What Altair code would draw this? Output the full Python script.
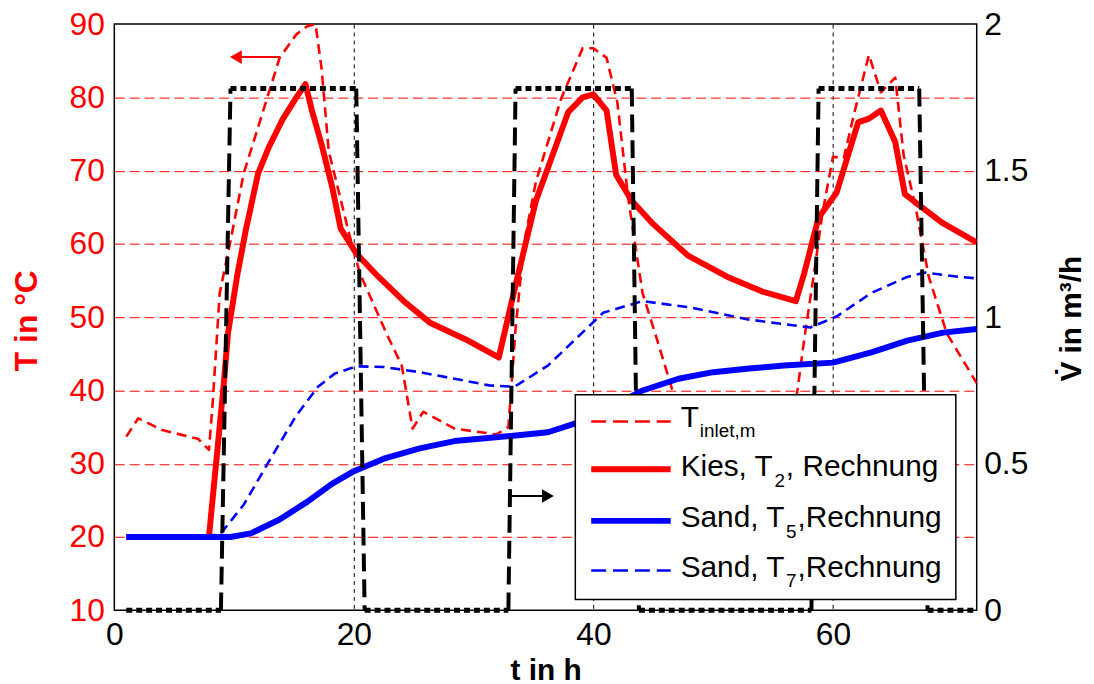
import altair as alt
import pandas as pd

RED = "#ff0000"
BLUE = "#0000ff"
FONT = "Liberation Sans"

# ---------------- data ----------------
inlet_t = [1.0, 2.0, 4.0, 7.0, 7.9, 8.2, 8.8, 9.66, 10.8, 12.0, 13.8, 15.2, 16.1, 16.8, 17.3, 17.9,
           19.6, 20.5, 22.8, 24.0, 24.9, 25.8, 28.4, 31.9, 32.9, 33.5, 34.2, 35.2, 37.3, 39.1, 40.0,
           41.1, 42.0, 42.9, 44.1, 45.3, 46.6, 47.8, 50.0, 54.0, 56.5, 57.05, 57.6, 58.5, 59.1,
           60.0, 60.9, 61.8, 63.0, 64.0, 65.2, 65.9, 66.9, 68.0, 69.5, 72.0]
inlet_T = [33.7, 36.2, 34.6, 33.4, 31.9, 38.0, 53.3, 60.1, 69.6, 75.9, 85.4, 88.6, 89.7, 90.0, 84.0, 72.7,
           61.4, 56.0, 47.5, 43.4, 34.8, 37.1, 34.8, 34.0, 35.0, 48.4, 60.0, 68.5, 79.8, 86.7, 86.7,
           85.4, 79.3, 66.3, 53.3, 47.0, 40.0, 35.5, 34.0, 33.5, 34.0, 40.2, 47.0, 56.9, 64.0,
           71.9, 71.7, 78.0, 85.8, 80.7, 82.7, 72.1, 65.0, 55.5, 47.8, 41.0]

t2_t = [1.0, 7.9, 9.1, 9.5, 10.25, 10.98, 12.0, 12.9, 14.05, 15.2, 15.96, 16.5, 17.3, 18.2, 18.9,
        20.2, 22.0, 24.3, 26.4, 29.3, 31.9, 32.1, 33.3, 35.2, 37.9, 39.1, 40.0, 41.1, 41.9, 43.2,
        45.0, 47.9, 51.2, 54.1, 56.9, 57.6, 58.8, 60.3, 62.1, 63.0, 64.0, 65.2, 66.0, 67.1, 69.1, 72.0]
t2_T = [20.0, 20.0, 40.2, 47.9, 55.6, 61.9, 69.6, 73.2, 77.0, 80.0, 81.8, 78.2, 73.6, 67.7, 62.1,
        58.7, 55.6, 52.0, 49.2, 47.0, 44.7, 44.5, 53.0, 65.9, 78.0, 80.0, 80.4, 78.2, 69.4, 65.9,
        62.7, 58.4, 55.5, 53.5, 52.2, 56.0, 63.6, 67.0, 76.6, 77.1, 78.2, 73.9, 66.8, 65.4, 62.9, 60.2]

t5_t = [1.0, 9.7, 11.4, 13.8, 16.1, 18.2, 19.9, 22.5, 25.5, 28.4, 33.1, 36.2, 38.5, 41.0, 44.1,
        47.1, 50.0, 53.0, 55.9, 60.0, 63.2, 66.2, 69.2, 72.0]
t5_T = [20.0, 20.0, 20.5, 22.4, 24.8, 27.3, 28.9, 30.7, 32.1, 33.1, 33.8, 34.3, 35.5, 37.3, 40.0,
        41.6, 42.5, 43.0, 43.4, 43.8, 45.2, 46.8, 47.9, 48.4]

t7_t = [1.0, 8.8, 10.8, 12.9, 15.2, 17.0, 18.4, 20.2, 22.5, 25.5, 28.4, 31.3, 33.4, 36.2, 38.5,
        40.8, 44.1, 48.2, 52.9, 58.1, 60.3, 63.2, 66.2, 67.7, 70.6, 72.0]
t7_T = [20.0, 20.3, 24.4, 30.3, 36.6, 40.5, 42.3, 43.3, 43.2, 42.5, 41.6, 40.7, 40.5, 43.4, 47.0,
        50.6, 52.2, 51.3, 49.7, 48.6, 50.1, 53.3, 55.5, 56.1, 55.5, 55.3]

flow_t = [1.0, 8.9, 9.7, 20.2, 20.9, 32.9, 33.5, 43.2, 43.8, 58.2, 58.8, 67.2, 67.9, 72.0]
flow_v = [0.0, 0.0, 1.78, 1.78, 0.0, 0.0, 1.78, 1.78, 0.0, 0.0, 1.78, 1.78, 0.0, 0.0]

# annotation arrows (data units)
red_arrow_t = [10.6, 13.8]
red_arrow_T = 85.5
red_head_t = 10.15
blk_arrow_t = [32.9, 35.8]
blk_arrow_v = 0.39
blk_head_t = 36.2

x_ticks = [0, 20, 40, 60]
T_ticks = [10, 20, 30, 40, 50, 60, 70, 80, 90]
V_ticks = [0, 0.5, 1, 1.5, 2]

legend_labels = [("T", "inlet,m", ""), ("Kies, T", "2", ", Rechnung"),
                 ("Sand, T", "5", ",Rechnung"), ("Sand, T", "7", ",Rechnung")]

# ---------------- scales / axes ----------------
x_axis = alt.Axis(values=x_ticks, title="t in h", titleFontSize=30, titleFontWeight="bold",
                  titleColor="black", titleFont=FONT, labelFont=FONT, labelFontSize=32,
                  labelColor="black", labelFlush=False, grid=True,
                  gridColor={"condition": {"test": "datum.value === 0", "value": "transparent"},
                             "value": "black"},
                  gridDash=[4, 4], gridWidth=1, tickSize=0, labelPadding=9, domain=False,
                  titleY=70, titleBaseline="alphabetic")
x_enc = alt.X("t:Q", scale=alt.Scale(domain=[0, 72], nice=False, zero=False), axis=x_axis)

yT_axis = alt.Axis(values=T_ticks, title="T in °C", titleFontSize=32, titleFontWeight="bold",
                   titleColor=RED, titleFont=FONT, labelFont=FONT, labelFontSize=32,
                   labelColor=RED, labelFlush=False, grid=True,
                   gridColor={"condition": {"test": "datum.value === 10 || datum.value === 90",
                                            "value": "transparent"}, "value": RED},
                   gridDash=[10, 5], gridWidth=1, tickSize=0, labelPadding=10, domain=False,
                   titleX=-78, titleY=298, titleAngle=270, titleBaseline="alphabetic",
                   titleAlign="center")
yT = lambda f="T": alt.Y(f"{f}:Q", scale=alt.Scale(domain=[10, 90], nice=False, zero=False),
                        axis=yT_axis)

yV_axis = alt.Axis(orient="right", values=V_ticks, format="~g", title="V\u0307 in m³/h",
                   titleFontSize=30, titleFontWeight="bold", titleColor="black", titleFont=FONT,
                   labelFont=FONT, labelFontSize=32, labelColor="black", labelFlush=False,
                   grid=False, tickSize=0,
                   labelPadding=7, domain=False, titleX=104, titleY=296, titleAngle=270,
                   titleBaseline="alphabetic", titleAlign="center")
yV = lambda: alt.Y("V:Q", scale=alt.Scale(domain=[0, 2], nice=False, zero=False), axis=yV_axis)


def tline(ts, vs, color, width, dash=None):
    df = pd.DataFrame({"t": ts, "T": vs})
    kw = dict(color=color, strokeWidth=width, clip=True, strokeJoin="round")
    if dash:
        kw["strokeDash"] = dash
    return alt.Chart(df).mark_line(**kw).encode(x=x_enc, y=yT())


inlet = tline(inlet_t, inlet_T, RED, 2.6, [10, 6])
kies2 = tline(t2_t, t2_T, RED, 6)
sand5 = tline(t5_t, t5_T, BLUE, 6)
sand7 = tline(t7_t, t7_T, BLUE, 2.6, [10, 6])

red_rule = alt.Chart(pd.DataFrame({"t": [red_arrow_t[0]], "t2": [red_arrow_t[1]],
                                   "T": [red_arrow_T]})).mark_rule(
    color=RED, strokeWidth=2).encode(x=x_enc, x2="t2:Q", y=yT())
red_head = alt.Chart(pd.DataFrame({"t": [red_head_t], "T": [red_arrow_T]})).mark_point(
    shape="triangle-left", filled=True, size=190, color=RED, opacity=1).encode(x=x_enc, y=yT())

# flow segments
rows = []
for i in range(len(flow_t) - 1):
    kind = "level" if flow_v[i] == flow_v[i + 1] else "edge"
    rows.append({"seg": i, "t": flow_t[i], "V": flow_v[i], "kind": kind})
    rows.append({"seg": i, "t": flow_t[i + 1], "V": flow_v[i + 1], "kind": kind})
flow_df = pd.DataFrame(rows)

flow_edges = alt.Chart(flow_df).transform_filter("datum.kind === 'edge'").mark_line(
    color="black", strokeWidth=4, strokeDash=[18, 8]).encode(x=x_enc, y=yV(), detail="seg:N")
flow_levels = alt.Chart(flow_df).transform_filter("datum.kind === 'level'").mark_line(
    color="black", strokeWidth=5, strokeDash=[6, 4]).encode(x=x_enc, y=yV(), detail="seg:N")

blk_rule = alt.Chart(pd.DataFrame({"t": [blk_arrow_t[0]], "t2": [blk_arrow_t[1]],
                                   "V": [blk_arrow_v]})).mark_rule(
    color="black", strokeWidth=2).encode(x=x_enc, x2="t2:Q", y=yV())
blk_head = alt.Chart(pd.DataFrame({"t": [blk_head_t], "V": [blk_arrow_v]})).mark_point(
    shape="triangle-right", filled=True, size=190, color="black", opacity=1).encode(x=x_enc, y=yV())

left = alt.layer(inlet, kies2, sand5, sand7, red_rule, red_head)
right = alt.layer(flow_edges, flow_levels, blk_rule, blk_head)

# ---------------- manual legend (pixel positions inside the plot) ----------------
one = pd.DataFrame({"a": [0]})
legend_layers = [
    alt.Chart(one).mark_rect(fill="white", stroke="black", strokeWidth=1.5).encode(
        x=alt.value(464), x2=alt.value(847), y=alt.value(373), y2=alt.value(579))
]
sample_styles = [(RED, 2.6, [15, 7]), (RED, 6, None), (BLUE, 6, None), (BLUE, 2.6, [15, 7])]
row_y = [400, 448, 500, 550]
base_y = [405, 455, 506, 556]
W = {"T": 611, " ": 278, ",": 278, "K": 667, "i": 222, "e": 556, "s": 500, "S": 667,
     "a": 556, "n": 556, "d": 556, "2": 556, "5": 556, "7": 556, "l": 222, "t": 278, "m": 833}


def width(s, size):
    return sum(W.get(c, 556) for c in s) / 1000 * size


MAIN, SUB = 30, 19
for (col, sw, dash), ry, by, (a, b, c) in zip(sample_styles, row_y, base_y, legend_labels):
    kw = dict(color=col, strokeWidth=sw)
    if dash:
        kw["strokeDash"] = dash
    legend_layers.append(alt.Chart(one).mark_rule(**kw).encode(
        x=alt.value(480), x2=alt.value(560), y=alt.value(ry)))
    x0 = 570
    legend_layers.append(alt.Chart(one).mark_text(
        align="left", baseline="alphabetic", font=FONT, fontSize=MAIN, color="black").encode(
        x=alt.value(x0), y=alt.value(by), text=alt.value(a)))
    x1 = x0 + width(a, MAIN) + 1
    legend_layers.append(alt.Chart(one).mark_text(
        align="left", baseline="alphabetic", font=FONT, fontSize=SUB, color="black").encode(
        x=alt.value(x1), y=alt.value(by + 11), text=alt.value(b)))
    if c:
        x2 = x1 + width(b, SUB) + 1
        legend_layers.append(alt.Chart(one).mark_text(
            align="left", baseline="alphabetic", font=FONT, fontSize=MAIN, color="black").encode(
            x=alt.value(x2), y=alt.value(by), text=alt.value(c)))

chart = alt.layer(left, right, *legend_layers).resolve_scale(y="independent").properties(
    width=868, height=590,
    padding={"left": 107, "top": 14, "right": 110, "bottom": 80},
    autosize=alt.AutoSizeParams(type="none"),
    background="white",
).configure_view(stroke="black", strokeWidth=1.5)

chart.save("out.html", embed_options={"renderer": "svg", "actions": False})
